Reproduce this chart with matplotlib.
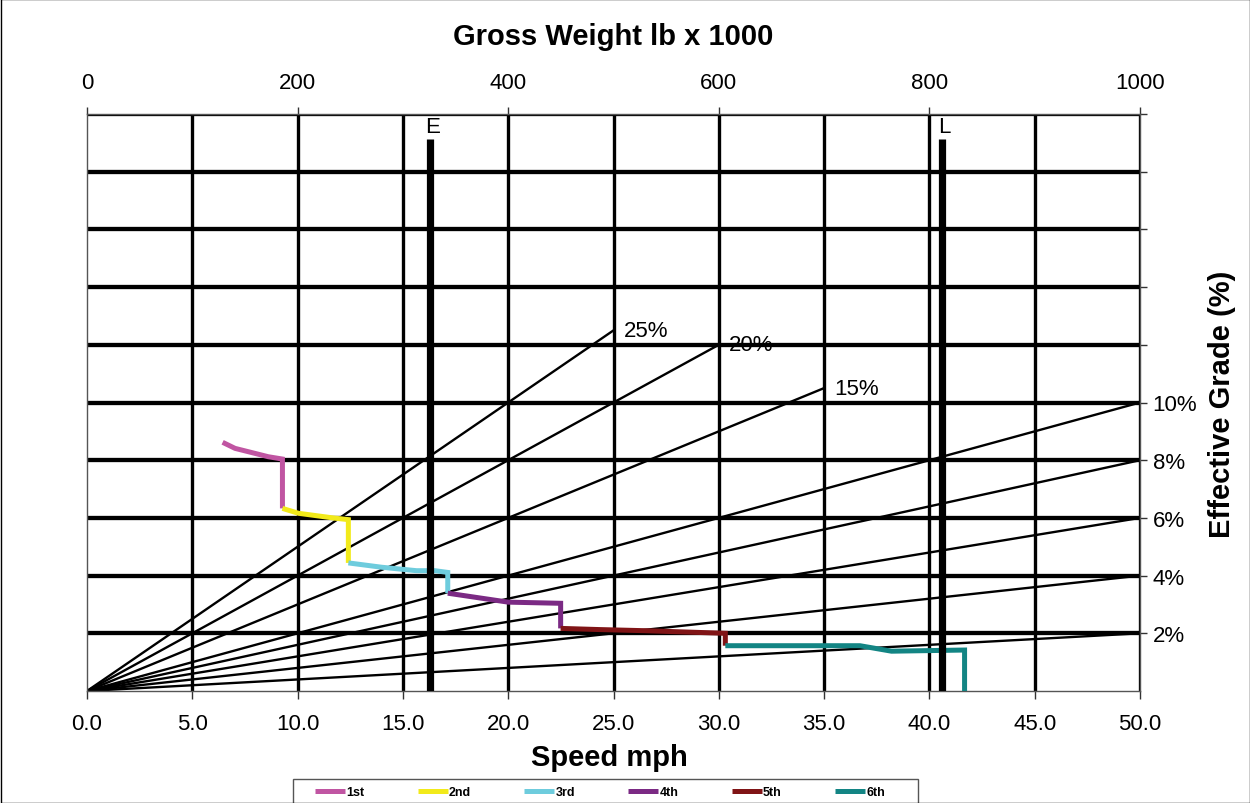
import numpy as np
import matplotlib
matplotlib.use("Agg")
import matplotlib.pyplot as plt
from matplotlib.patches import Rectangle

plt.rcParams['font.family'] = ['Liberation Sans', 'DejaVu Sans']

# speed scale (bottom) and gross weight scale (top)
speed_ticks = [0, 5, 10, 15, 20, 25, 30, 35, 40, 45, 50]
weight_ticks = [0, 200, 400, 600, 800, 1000]
grade_ticks = [2, 4, 6, 8, 10, 12, 14, 16, 18, 20]

# grade rays from the origin: label, end speed, end grade
ray_labels = ["25%", "20%", "15%", "10%", "8%", "6%", "4%", "2%"]
ray_end_speed = [25, 30, 35, 50, 50, 50, 50, 50]
ray_end_grade = [12.5, 12.0, 10.5, 10, 8, 6, 4, 2]

# E / L markers (speed)
marker_names = ["E", "L"]
marker_speed = [16.3, 40.6]

# gear curves
gear_names = ["1st", "2nd", "3rd", "4th", "5th", "6th"]
gear_colors = ["#C055A2", "#F2EA1A", "#6ECCDD", "#7B2A84", "#801416", "#138584"]
gear_speed = [
    [6.44, 7.03, 8.61, 9.28, 9.28],
    [9.28, 10.04, 11.78, 12.41, 12.41],
    [12.41, 13.99, 15.65, 16.52, 17.13, 17.13],
    [17.13, 20.0, 22.49, 22.49],
    [22.49, 24.3, 26.5, 30.31, 30.31],
    [30.31, 36.7, 38.2, 41.67, 41.67],
]
gear_grade = [
    [8.62, 8.41, 8.12, 8.04, 6.33],
    [6.33, 6.16, 5.99, 5.94, 4.44],
    [4.44, 4.29, 4.17, 4.17, 4.11, 3.39],
    [3.39, 3.08, 3.04, 2.17],
    [2.17, 2.13, 2.09, 2.0, 1.57],
    [1.57, 1.57, 1.38, 1.42, 0.0],
]

fig = plt.figure(figsize=(12.5, 8.04), dpi=100)
ax = fig.add_axes([87/1250, 1-692/804, 1053/1250, 577/804])
ax.set_xlim(0, 50)
ax.set_ylim(0, 20)

# grid
for s in speed_ticks[1:]:
    ax.plot([s, s], [0, 20], color="black", lw=2.4, zorder=1, solid_capstyle="butt")
for g in grade_ticks:
    ax.plot([0, 50], [g, g], color="black", lw=3.1, zorder=1, solid_capstyle="butt")

# rays
for lab, xs, ys in zip(ray_labels, ray_end_speed, ray_end_grade):
    ax.plot([0, xs], [0, ys], color="black", lw=1.7, zorder=2)
    if xs < 50:
        ax.text(xs + 0.5, ys, lab, fontsize=16, ha="left", va="center", zorder=5)

# gears
for name, c, xs, ys in zip(gear_names, gear_colors, gear_speed, gear_grade):
    ax.plot(xs, ys, color=c, lw=3.6, label=name, zorder=3,
            solid_joinstyle="miter", solid_capstyle="butt")

# E and L lines
for name, s in zip(marker_names, marker_speed):
    ax.plot([s, s], [0, 19.13], color="black", lw=5.2, zorder=4, solid_capstyle="butt")
    ax.text(s + 0.1, 19.55, name, fontsize=16, ha="center", va="center", zorder=5)

# axes styling
for sp in ["left", "bottom", "top", "right"]:
    ax.spines[sp].set_color("#555555")
    ax.spines[sp].set_linewidth(1.0)
ax.set_xticks(speed_ticks)
ax.set_xticklabels(["%.1f" % s for s in speed_ticks])
ax.tick_params(axis="x", direction="out", length=6, width=1, color="#333333",
               labelsize=16, pad=10)
ax.yaxis.tick_right()
ax.set_yticks(grade_ticks)
ax.set_yticklabels(["%d%%" % g if g <= 10 else "" for g in grade_ticks])
ax.tick_params(axis="y", direction="out", length=5, width=1, color="#333333",
               labelsize=16, pad=4)

top = ax.secondary_xaxis("top", functions=(lambda x: x*20, lambda x: x/20))
top.set_xticks(weight_ticks)
top.set_xticklabels([str(w) for w in weight_ticks])
top.tick_params(direction="out", length=5, width=1, color="#333333",
                labelsize=16, pad=10)
top.spines["top"].set_visible(False)

fig.text(613/1250, 1-37/804, "Gross Weight lb x 1000", fontsize=21,
         fontweight="bold", ha="center", va="center")
fig.text(609/1250, 1-758/804, "Speed mph", fontsize=21,
         fontweight="bold", ha="center", va="center")
fig.text(1222/1250, 1-404/804, "Effective Grade (%)", fontsize=21,
         fontweight="bold", ha="center", va="center", rotation=90)

# legend at the bottom, partly cut off (frame drawn by hand)
leg = fig.legend(loc="center left", ncol=6, mode="expand",
                 bbox_to_anchor=(315/1250, 1-793/804, 570/1250, 0),
                 bbox_transform=fig.transFigure,
                 prop={"size": 9, "weight": "bold"}, handlelength=2.4,
                 handletextpad=0.1, borderpad=0, borderaxespad=0,
                 frameon=False)
fig.patches.append(Rectangle((293/1250, -0.01), 625/1250, 0.01 + 1-780/804,
                             transform=fig.transFigure, fill=False,
                             edgecolor="#555555", lw=1.0))

# outer border
fig.patches.append(Rectangle((0.0004, 0.0006), 0.9992, 0.9988, transform=fig.transFigure,
                             fill=False, edgecolor="black", lw=1.0))

fig.savefig("out.png", dpi=100)
